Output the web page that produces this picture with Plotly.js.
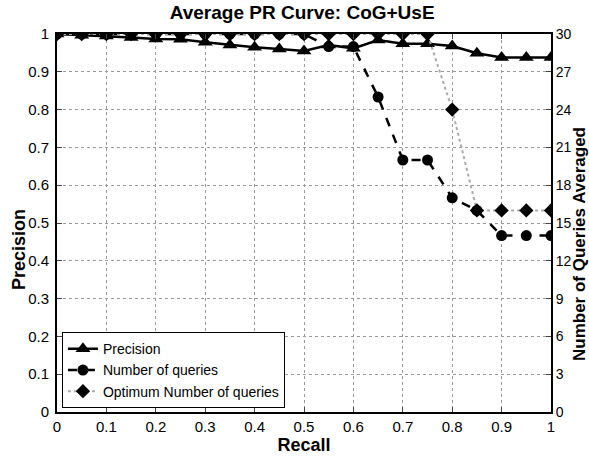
<!DOCTYPE html>
<html><head><meta charset="utf-8">
<script src="https://cdn.plot.ly/plotly-3.0.1.min.js"></script>
<style>html,body{margin:0;padding:0;background:#fff}#c{width:589px;height:457px}</style>
</head><body><div id="c"></div>
<script>
var recall = [0,0.05,0.1,0.15,0.2,0.25,0.3,0.35,0.4,0.45,0.5,0.55,0.6,0.65,0.7,0.75,0.8,0.85,0.9,0.95,1];
var precision = [1.0,0.997,0.995,0.991,0.987,0.986,0.978,0.971,0.965,0.960,0.955,0.971,0.962,0.984,0.974,0.974,0.968,0.949,0.938,0.938,0.938];
var numQueries = [30,30,30,30,30,30,30,30,30,30,30,29,29,25,20,20,17,16,14,14,14];
var optQueries = [30,30,30,30,30,30,30,30,30,30,30,30,30,30,30,30,24,16,16,16,16];
var xTicks = [0,0.1,0.2,0.3,0.4,0.5,0.6,0.7,0.8,0.9,1];
var yTicks = [0,0.1,0.2,0.3,0.4,0.5,0.6,0.7,0.8,0.9,1];
var y2Ticks = [0,3,6,9,12,15,18,21,24,27,30];

var F = "Liberation Sans, Arial, Helvetica, sans-serif";
var traces = [
 {x: recall, y: precision, name: 'Precision', mode: 'lines+markers', yaxis: 'y',
  line: {color: '#000', width: 2.5, dash: 'solid'},
  marker: {symbol: 'triangle-up', size: 13, color: '#000'}},
 {x: recall, y: numQueries, name: 'Number of queries', mode: 'lines+markers', yaxis: 'y2',
  line: {color: '#000', width: 2.5, dash: 'dash'},
  marker: {symbol: 'circle', size: 11, color: '#000'}},
 {x: recall, y: optQueries, name: 'Optimum Number of queries', mode: 'lines+markers', yaxis: 'y2',
  line: {color: '#aaa', width: 2, dash: 'dot'},
  marker: {symbol: 'diamond', size: 11, color: '#000'}}
];
var layout = {
 width: 589, height: 457,
 margin: {l: 57, r: 38, t: 34, b: 45},
 paper_bgcolor: '#fff', plot_bgcolor: '#fff',
 font: {family: F, size: 15, color: '#000'},
 showlegend: true,
 title: {text: '<b>Average PR Curve: CoG+UsE</b>', font: {size: 19, family: F}, x: 0.513, xanchor: 'center', y: 0.974, yanchor: 'middle'},
 xaxis: {range: [0, 1], tickvals: xTicks, ticktext: xTicks.map(String), ticks: 'inside', ticklen: 5,
  showgrid: true, gridcolor: '#999', griddash: 'dot', gridwidth: 1,
  showline: true, linecolor: '#000', linewidth: 2, mirror: 'ticks', zeroline: false,
  tickfont: {size: 15, family: F},
  title: {text: '<b>Recall</b>', font: {size: 18, family: F}, standoff: 0}},
 yaxis: {range: [0, 1], tickvals: yTicks, ticktext: yTicks.map(String), ticks: 'inside', ticklen: 5,
  showgrid: true, gridcolor: '#999', griddash: 'dot', gridwidth: 1,
  showline: true, linecolor: '#000', linewidth: 2, zeroline: false, ticklabelstandoff: 3,
  tickfont: {size: 15, family: F}},
 yaxis2: {range: [0, 30], overlaying: 'y', side: 'right', tickvals: y2Ticks, ticktext: y2Ticks.map(String),
  ticks: 'inside', ticklen: 5, showgrid: false, showline: true, linecolor: '#000', linewidth: 2, zeroline: false,
  tickfont: {size: 14, family: F}},
 annotations: [
  {text: '<b>Precision</b>', xref: 'paper', yref: 'paper', x: -38/494, y: (412-250)/378, xanchor: 'center', yanchor: 'middle',
   textangle: -90, showarrow: false, font: {size: 18, family: F}},
  {text: '<b>Number of Queries Averaged</b>', xref: 'paper', yref: 'paper', x: 1 + 28/494, y: (412-244)/378, xanchor: 'center', yanchor: 'middle',
   textangle: -90, showarrow: false, font: {size: 17, family: F}}
 ],
 legend: {x: 0.01, y: 0.01, xanchor: 'left', yanchor: 'bottom', bgcolor: '#fff', bordercolor: '#000', borderwidth: 1,
  font: {size: 14, family: F}, tracegroupgap: 0, itemwidth: 30}
};
Plotly.newPlot('c', traces, layout, {staticPlot: true, displayModeBar: false});
</script></body></html>
